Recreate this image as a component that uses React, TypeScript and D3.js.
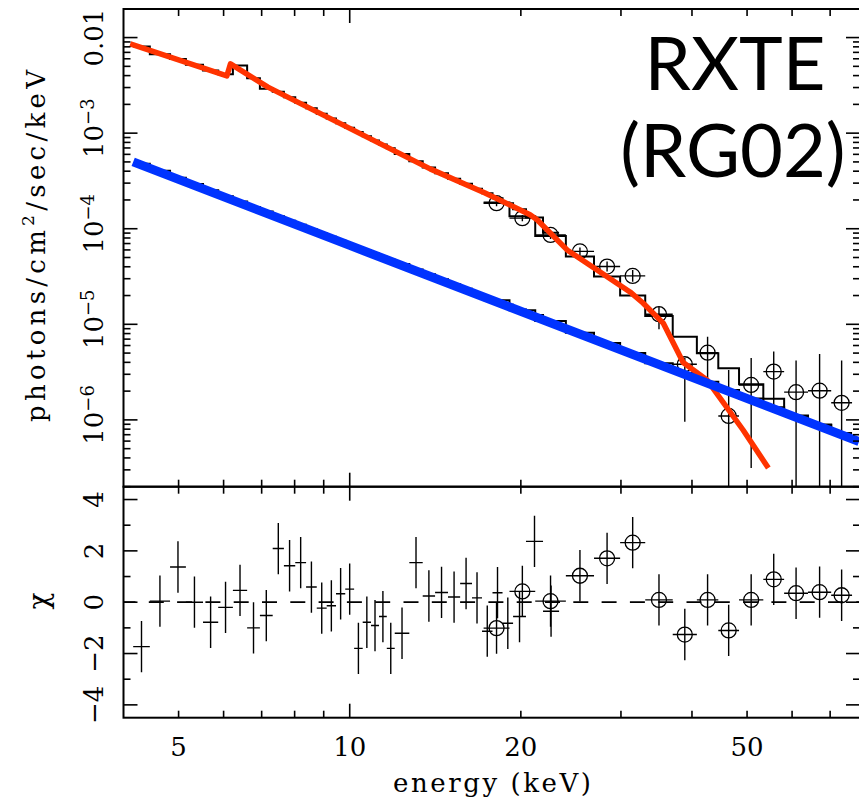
import * as d3 from 'd3';
import { useEffect, useRef } from 'react';

const width = 859;
const height = 802;

// PCA channel boundaries (keV)
const pcaEdges = [4.16, 4.45, 4.83, 5.15, 5.52, 5.87, 6.23, 6.60, 6.95, 7.32, 7.66, 8.02, 8.38, 8.75, 9.11, 9.46, 9.82,
    10.18, 10.54, 10.90, 11.26, 11.62, 12.00, 12.73, 13.44, 14.13, 14.89, 15.64, 16.41, 17.09, 17.83, 18.57, 19.38,
    20.42, 21.88, 23.35];
// HEXTE channel boundaries (keV)
const hexteEdges = [17.2, 19.1, 21.2, 24.0, 26.9, 29.9, 33.1, 37.0, 40.8, 44.5, 48.4, 53.4, 58.1, 64.0, 70.3, 76.5];

// total model, folded in PCA channels (photons/cm2/sec/keV)
const pcaTotal = [8.06e-3, 6.71e-3, 5.95e-3, 5.19e-3, 4.52e-3, 4.12e-3, 5.10e-3, 3.76e-3, 2.91e-3, 2.71e-3, 2.37e-3,
    2.08e-3, 1.82e-3, 1.60e-3, 1.42e-3, 1.27e-3, 1.14e-3, 1.03e-3, 9.26e-4, 8.38e-4, 7.62e-4, 6.93e-4, 6.04e-4,
    5.09e-4, 4.36e-4, 3.81e-4, 3.34e-4, 2.95e-4, 2.62e-4, 2.35e-4, 2.08e-4, 1.85e-4, 1.60e-4, 1.31e-4, 9.05e-5];
// power law component in PCA channels
const pcaPowerlaw = [4.79e-4, 4.04e-4, 3.41e-4, 2.93e-4, 2.53e-4, 2.19e-4, 1.93e-4, 1.69e-4, 1.51e-4, 1.35e-4,
    1.21e-4, 1.10e-4, 9.90e-5, 8.99e-5, 8.22e-5, 7.54e-5, 6.94e-5, 6.40e-5, 5.91e-5, 5.49e-5, 5.10e-5, 4.74e-5,
    4.27e-5, 3.75e-5, 3.33e-5, 2.96e-5, 2.63e-5, 2.35e-5, 2.13e-5, 1.93e-5, 1.76e-5, 1.60e-5, 1.43e-5, 1.25e-5, 1.07e-5];
const pcaChi = [-1.73, 0.04, 1.37, 0, -0.78, -0.2, 0.46, -1.0, -0.52, 2.09, 1.42, 1.54, 0.59, -0.23, -0.14, 0.33,
    0.51, -1.8, -0.78, -0.91, -0.56, -1.8, -1.21, 1.54, 0.24, 0.38, 0.2, 0.73, 0.17, -1.13, 0.37, -0.82, -0.56, 2.37, -0.35];

// HEXTE model + data
const hexteTotal = [1.88e-4, 1.35e-4, 8.41e-5, 5.11e-5, 3.16e-5, 2.00e-5, 1.22e-5, 7.43e-6, 4.98e-6, 3.47e-6, 2.36e-6,
    1.66e-6, 1.11e-6, 8.95e-7, 7.29e-7];
const hextePowerlaw = [1.78e-5, 1.40e-5, 1.08e-5, 8.17e-6, 6.36e-6, 5.02e-6, 3.92e-6, 3.09e-6, 2.50e-6, 2.06e-6,
    1.67e-6, 1.36e-6, 1.10e-6, 8.84e-7, 7.21e-7];
const hexteFlux = [1.85e-4, 1.29e-4, 8.62e-5, 5.79e-5, 4.02e-5, 3.21e-5, 1.275e-5, 3.82e-6, 5.05e-6, 1.10e-6, 2.32e-6,
    3.20e-6, 1.95e-6, 2.02e-6, 1.51e-6];
const hexteHi = [1.99e-4, 1.39e-4, 9.49e-5, 6.37e-5, 4.53e-5, 3.71e-5, 1.53e-5, 4.45e-6, 7.43e-6, 3.33e-6, 4.45e-6,
    5.18e-6, 4.17e-6, 4.90e-6, 4.17e-6];
const hexteLo = [1.72e-4, 1.20e-4, 7.83e-5, 5.26e-5, 3.56e-5, 2.78e-5, 8.88e-6, 9.58e-7, 2.62e-6, 0, 3.14e-7, 1.22e-6,
    0, 0, 0];
const hexteChi = [-1.01, 0.42, 0.04, 1.03, 1.71, 2.32, 0.09, -1.26, 0.09, -1.1, 0.09, 0.89, 0.35, 0.39, 0.27];

// smooth model curves
const redE = [4.11, 6.08, 6.17, 7.18, 13.85, 17.30, 20.76, 21.36, 24.12, 31.12, 32.8, 35.6, 38.6, 42.5, 49.2, 54.5];
const redF = [8.60e-3, 3.98e-3, 5.31e-3, 3.03e-3, 4.23e-4, 2.37e-4, 1.40e-4, 1.24e-4, 6.0e-5, 2.18e-5, 1.67e-5,
    1.03e-5, 3.98e-6, 2.62e-6, 7.84e-7, 3.14e-7];
const blueE = [4.16, 10, 78.7];
const blueF = [5.01e-4, 6.69e-5, 5.92e-7];

const xTicksMinor = [5, 6, 7, 8, 9, 20, 30, 40, 50, 60, 70];
const xTicksMajor = [10];
const xLabels = [5, 10, 20, 50];
const yDecades = [-2, -3, -4, -5, -6];
const chiTicksMajor = [-4, -2, 0, 2, 4];
const chiTicksMinor = [-3, -1, 1, 3];

const App = () => {
    const ref = useRef<SVGSVGElement>(null);

    useEffect(() => {
        drawChart();
    }, []);

    const drawChart = () => {
        const left = 123.5, right = 860, top = 9, mid = 486.7, bottom = 717.7;
        const serif = 'DejaVu Serif';

        const svg = d3.select(ref.current);
        svg.selectAll('*').remove();

        const x = d3.scaleLog().domain([4, 79]).range([left, right]);
        const y = d3.scaleLog().domain([2e-7, 0.0199]).range([mid, top]);
        const yc = d3.scaleLinear().domain([-4.5, 4.5]).range([bottom, mid]);
        const yy = (v: number) => (v > 0 ? y(v) : mid + 2);

        const defs = svg.append('defs');
        defs.append('clipPath').attr('id', 'clipTop')
            .append('rect').attr('x', left).attr('y', top).attr('width', right - left).attr('height', mid - top);
        defs.append('clipPath').attr('id', 'clipBot')
            .append('rect').attr('x', left).attr('y', mid).attr('width', right - left).attr('height', bottom - mid);

        const topG = svg.append('g').attr('clip-path', 'url(#clipTop)');
        const botG = svg.append('g').attr('clip-path', 'url(#clipBot)');

        // step histograms
        const stepLine = d3.line<[number, number]>().x(d => x(d[0])).y(d => y(d[1])).curve(d3.curveStepAfter);
        const steps = (edges: number[], vals: number[]) => {
            const pts: [number, number][] = vals.map((v, i) => [edges[i], v]);
            pts.push([edges[edges.length - 1], vals[vals.length - 1]]);
            return pts;
        };
        [[pcaEdges, pcaTotal], [pcaEdges, pcaPowerlaw], [hexteEdges, hexteTotal], [hexteEdges, hextePowerlaw]]
            .forEach(([e, v]) => {
                topG.append('path')
                    .attr('d', stepLine(steps(e, v)))
                    .attr('fill', 'none')
                    .attr('stroke', 'black')
                    .attr('stroke-width', 2);
            });

        // HEXTE data points in the spectrum
        const centre = (edges: number[], i: number) => Math.sqrt(edges[i] * edges[i + 1]);
        hexteFlux.forEach((f, i) => {
            const cx = x(centre(hexteEdges, i));
            topG.append('line')
                .attr('x1', x(hexteEdges[i])).attr('x2', x(hexteEdges[i + 1]))
                .attr('y1', y(f)).attr('y2', y(f))
                .attr('stroke', 'black').attr('stroke-width', 1.4);
            topG.append('line')
                .attr('x1', cx).attr('x2', cx)
                .attr('y1', y(hexteHi[i])).attr('y2', yy(hexteLo[i]))
                .attr('stroke', 'black').attr('stroke-width', 1.4);
            topG.append('circle')
                .attr('cx', cx).attr('cy', y(f)).attr('r', 7.5)
                .attr('fill', 'none').attr('stroke', 'black').attr('stroke-width', 1.3);
        });

        // model curves on top
        const drawCurve = (es: number[], fs: number[], color: string, w: number) => {
            const ln = d3.line<number>().x(d => x(d)).y((d, i) => y(fs[i]));
            topG.append('path')
                .attr('d', ln(es))
                .attr('fill', 'none')
                .attr('stroke', color)
                .attr('stroke-width', w)
                .attr('stroke-linejoin', 'round');
        };
        drawCurve(redE, redF, '#ff3300', 5.5);
        drawCurve(blueE, blueF, '#0033ff', 9);

        // residuals
        botG.append('line')
            .attr('x1', left).attr('x2', right)
            .attr('y1', yc(0)).attr('y2', yc(0))
            .attr('stroke', 'black').attr('stroke-width', 1.8)
            .attr('stroke-dasharray', '15 13.3').attr('stroke-dashoffset', 3);

        const resid = (edges: number[], chis: number[], circles: boolean) => {
            chis.forEach((c, i) => {
                const cx = x(centre(edges, i));
                botG.append('line')
                    .attr('x1', x(edges[i])).attr('x2', x(edges[i + 1]))
                    .attr('y1', yc(c)).attr('y2', yc(c))
                    .attr('stroke', 'black').attr('stroke-width', 1.4);
                botG.append('line')
                    .attr('x1', cx).attr('x2', cx)
                    .attr('y1', yc(c + 1)).attr('y2', yc(c - 1))
                    .attr('stroke', 'black').attr('stroke-width', 1.4);
                if (circles) {
                    botG.append('circle')
                        .attr('cx', cx).attr('cy', yc(c)).attr('r', 7.5)
                        .attr('fill', 'none').attr('stroke', 'black').attr('stroke-width', 1.3);
                }
            });
        };
        resid(pcaEdges, pcaChi, false);
        resid(hexteEdges, hexteChi, true);

        // frames
        const axes = svg.append('g').attr('stroke', 'black').attr('fill', 'none');
        axes.append('rect').attr('x', left).attr('y', top).attr('width', right - left).attr('height', mid - top)
            .attr('stroke-width', 2);
        axes.append('rect').attr('x', left).attr('y', mid).attr('width', right - left).attr('height', bottom - mid)
            .attr('stroke-width', 2);

        const tick = (x1: number, y1: number, x2: number, y2: number) =>
            axes.append('line').attr('x1', x1).attr('y1', y1).attr('x2', x2).attr('y2', y2).attr('stroke-width', 1.6);

        // energy ticks on every horizontal edge
        [...xTicksMinor.map(v => [v, 7]), ...xTicksMajor.map(v => [v, 14])].forEach(([v, len]) => {
            const px = x(v);
            tick(px, top, px, top + len);
            tick(px, mid, px, mid - len);
            tick(px, mid, px, mid + len);
            tick(px, bottom, px, bottom - len);
        });

        // log flux ticks, left and right
        for (let p = -7; p <= -2; p++) {
            for (let k = 1; k <= 9; k++) {
                const v = k * Math.pow(10, p);
                if (v < 2e-7 || v > 0.0199) continue;
                const len = k === 1 ? 14 : 7;
                tick(left, y(v), left + len, y(v));
                tick(right, y(v), right - len, y(v));
            }
        }

        // chi ticks
        [...chiTicksMajor.map(v => [v, 14]), ...chiTicksMinor.map(v => [v, 7])].forEach(([v, len]) => {
            tick(left, yc(v), left + len, yc(v));
            tick(right, yc(v), right - len, yc(v));
        });

        // tick labels
        const labels = svg.append('g').attr('font-family', serif).attr('fill', 'black');
        xLabels.forEach(v => {
            labels.append('text')
                .attr('x', x(v)).attr('y', 756)
                .attr('text-anchor', 'middle')
                .attr('font-size', 26)
                .text(v);
        });

        yDecades.forEach(p => {
            const t = labels.append('text')
                .attr('transform', `translate(103,${y(Math.pow(10, p)) + (p === -2 ? 0 : -5)}) rotate(-90)`)
                .attr('text-anchor', 'middle')
                .attr('font-size', 26);
            if (p === -2) {
                t.text('0.01');
            } else {
                t.append('tspan').text('10');
                t.append('tspan').attr('dy', -9).attr('font-size', 18).text('\u2212' + -p);
            }
        });

        chiTicksMajor.forEach(v => {
            labels.append('text')
                .attr('transform', `translate(103,${yc(v)}) rotate(-90)`)
                .attr('text-anchor', 'middle')
                .attr('font-size', 26)
                .text(v < 0 ? '\u2212' + -v : String(v));
        });

        // axis titles
        const yt = labels.append('text')
            .attr('transform', 'translate(45,246) rotate(-90)')
            .attr('text-anchor', 'middle')
            .attr('font-size', 26)
            .attr('textLength', 352)
            .attr('lengthAdjust', 'spacing');
        yt.append('tspan').text('photons/cm');
        yt.append('tspan').attr('dy', -11).attr('font-size', 17).text('2');
        yt.append('tspan').attr('dy', 11).text('/sec/keV');

        labels.append('text')
            .attr('transform', 'translate(48,601) rotate(-90)')
            .attr('text-anchor', 'middle')
            .attr('font-size', 28)
            .text('\u03c7');

        labels.append('text')
            .attr('x', 492).attr('y', 792)
            .attr('text-anchor', 'middle')
            .attr('font-size', 26)
            .attr('textLength', 198)
            .attr('lengthAdjust', 'spacing')
            .text('energy (keV)');

        // instrument label
        const title = svg.append('g').attr('font-family', 'Lato, sans-serif').attr('font-size', 74)
            .attr('text-anchor', 'middle').attr('fill', 'black');
        title.append('text').attr('x', 735).attr('y', 90).text('RXTE');
        title.append('text').attr('x', 733).attr('y', 177).text('(RG02)');
    };

    return (
        <svg ref={ref} width={width} height={height}
            style={{ position: 'absolute', left: 0, top: 0, background: 'white' }} />
    );
};

export default App;
